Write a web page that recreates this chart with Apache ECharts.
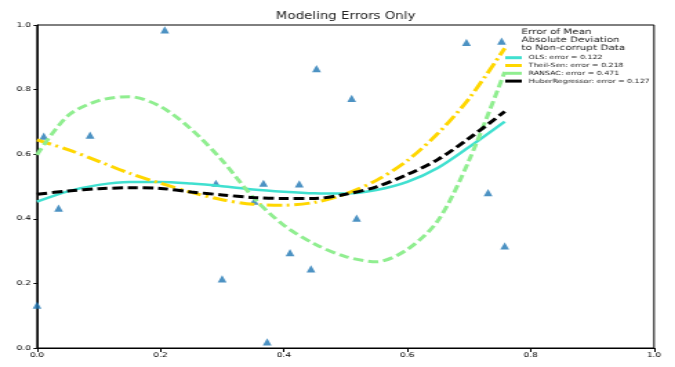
<!DOCTYPE html>
<html>
<head>
<meta charset="utf-8">
<script src="https://cdn.jsdelivr.net/npm/echarts@6/dist/echarts.min.js"></script>
<style>
html,body{margin:0;padding:0;background:#fff;overflow:hidden}
#wrap{width:675px;height:367px;overflow:hidden}
#c{width:489px;height:367px;transform:scaleX(1.3804);transform-origin:0 0}
</style>
</head>
<body>
<div id="wrap"><div id="c"></div></div>
<script>
const chartTitle = 'Modeling Errors Only';
const legendTitle = 'Error of Mean\nAbsolute Deviation\nto Non-corrupt Data';

const scatterX = [0.0, 0.011, 0.035, 0.086, 0.207, 0.290, 0.300, 0.352, 0.367, 0.373, 0.410, 0.425, 0.444, 0.453, 0.510, 0.518, 0.696, 0.731, 0.753, 0.758];
const scatterY = [0.133, 0.656, 0.433, 0.659, 0.985, 0.510, 0.214, 0.455, 0.510, 0.019, 0.295, 0.508, 0.245, 0.865, 0.773, 0.402, 0.946, 0.481, 0.950, 0.316];

const curveX = [0, 0.05, 0.1, 0.15, 0.2, 0.25, 0.3, 0.35, 0.4, 0.45, 0.5, 0.55, 0.6, 0.65, 0.7, 0.758];
const olsY    = [0.453, 0.485, 0.505, 0.514, 0.514, 0.509, 0.501, 0.491, 0.484, 0.479, 0.478, 0.489, 0.514, 0.558, 0.622, 0.701];
const theilY  = [0.644, 0.614, 0.578, 0.541, 0.510, 0.482, 0.459, 0.445, 0.442, 0.451, 0.477, 0.519, 0.580, 0.665, 0.772, 0.928];
const ransacY = [0.598, 0.719, 0.766, 0.778, 0.748, 0.677, 0.581, 0.467, 0.380, 0.322, 0.283, 0.267, 0.305, 0.395, 0.580, 0.855];
const huberY  = [0.476, 0.486, 0.493, 0.496, 0.494, 0.483, 0.474, 0.466, 0.463, 0.463, 0.476, 0.499, 0.537, 0.584, 0.649, 0.732];

const seriesNames = ['OLS: error = 0.122', 'Theil-Sen: error = 0.218', 'RANSAC: error = 0.471', 'HuberRegressor: error = 0.127'];
const seriesColors = ['#40e0d0', '#ffd700', '#90ee90', '#000000'];
const curveYs = [olsY, theilY, ransacY, huberY];

const font = 'DejaVu Sans';
const zip = (xs, ys) => xs.map((x, i) => [x, ys[i]]);

const lineStyles = [
  { width: 2.5, type: 'solid' },
  { width: 3, type: [11, 3.5, 2, 3.5] },
  { width: 3, type: [7.5, 3.5] },
  { width: 3, type: [7.5, 3.5] }
];

const axisCommon = {
  type: 'value', min: 0, max: 1, interval: 0.2,
  axisLine: { show: true, onZero: false, lineStyle: { color: '#000', width: 1 } },
  axisLabel: { fontFamily: font, fontSize: 6.5, color: '#000', formatter: v => v.toFixed(1) },
  splitLine: { show: false }
};

const chart = echarts.init(document.getElementById('c'), null, { renderer: 'canvas', width: 489, height: 367 });
chart.setOption({
  animation: false,
  backgroundColor: '#fff',
  title: [
    { text: chartTitle, left: 250.4, top: 11, textAlign: 'center', padding: 0,
      textStyle: { fontFamily: font, fontSize: 9.7, fontWeight: 'normal', color: '#222' } },
    { text: legendTitle, left: 377.8, top: 28, padding: 0,
      textStyle: { fontFamily: font, fontSize: 7.5, fontWeight: 'normal', color: '#1a1a1a', lineHeight: 8.2 } }
  ],
  grid: { left: 26.8, right: 15.2, top: 25, bottom: 19, show: true, borderColor: '#000', borderWidth: 1, backgroundColor: 'transparent' },
  legend: {
    data: seriesNames, orient: 'vertical', left: 366, top: 53.8, padding: 0,
    icon: 'rect', itemWidth: 12, itemHeight: 3, itemGap: 0,
    textStyle: { fontFamily: font, fontSize: 5.7, color: '#222', lineHeight: 7.8 }
  },
  xAxis: Object.assign({}, axisCommon, { axisLabel: Object.assign({}, axisCommon.axisLabel, { margin: 4 }), axisTick: { show: true, length: 4, lineStyle: { color: '#000' } } }),
  yAxis: Object.assign({}, axisCommon, { axisLabel: Object.assign({}, axisCommon.axisLabel, { margin: 4.5 }), axisTick: { show: true, length: 2.5, lineStyle: { color: '#000' } } }),
  series: [
    { type: 'scatter', name: 'data', symbol: 'triangle', symbolSize: [6.4, 7.2],
      itemStyle: { color: '#1f77b4' }, data: zip(scatterX, scatterY), z: 1, clip: true }
  ].concat(seriesNames.map((n, i) => ({
    type: 'line', name: n, data: zip(curveX, curveYs[i]), smooth: 0.3, showSymbol: false,
    color: seriesColors[i], lineStyle: Object.assign({ color: seriesColors[i] }, lineStyles[i]), z: 2 + i
  })))
});
</script>
</body>
</html>
